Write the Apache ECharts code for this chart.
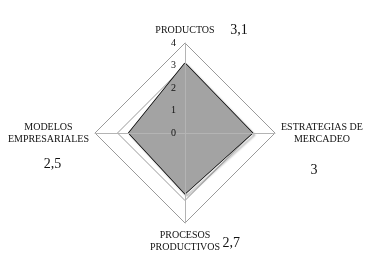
<!DOCTYPE html>
<html>
<head>
<meta charset="utf-8">
<script src="https://cdn.jsdelivr.net/npm/echarts@6/dist/echarts.min.js"></script>
<style>
html,body{margin:0;padding:0;background:#fff;}
#c{width:379px;height:275px;}
</style>
</head>
<body>
<div id="c"></div>
<script>
// Data (ECharts radar runs counter-clockwise from the top)
var categories = ['PRODUCTOS', 'MODELOS\nEMPRESARIALES', 'PROCESOS\nPRODUCTIVOS', 'ESTRATEGIAS DE\nMERCADEO'];
var values = [3.1, 2.5, 2.7, 3];
var valueLabels = ['3,1', '2,5', '2,7', '3'];
var axisMax = 4;
var tickCount = 4;

var FONT = 'Liberation Serif';
var TXT = '#111';
var chart = echarts.init(document.getElementById('c'), null, {renderer: 'canvas'});

function nameFormatter(name) {
  var i = categories.indexOf(name);
  var v = valueLabels[i];
  var lines = name.split('\n');
  if (i === 0) {
    return '{pad|}{n|' + lines[0] + '}{v|' + v + '}';
  } else if (i === 1) {
    return '{spL|}\n{n|' + lines[0] + '}\n{n|' + lines[1] + '}\n{vL|' + v + '}';
  } else if (i === 2) {
    return '{n|' + lines[0] + '}\n{pad2|}{n|' + lines[1] + '}{v2|' + v + '}';
  } else {
    return '{spR|}\n{n|' + lines[0] + '}\n{n|' + lines[1] + '}\n{vR|' + v + '}';
  }
}

var indicatorsMain = categories.map(function (c) { return {name: c, max: axisMax, min: 0}; });
var indicatorsTop = categories.map(function (c, i) {
  var o = {name: c, max: axisMax, min: 0};
  if (i !== 0) o.axisLabel = {show: false};
  return o;
});

var common = {
  center: [185, 133],
  radius: 90,
  startAngle: 90,
  shape: 'polygon',
  splitNumber: tickCount
};

chart.setOption({
  animation: false,
  backgroundColor: '#ffffff',
  radar: [
    Object.assign({}, common, {
      indicator: indicatorsMain,
      z: 0,
      axisName: {
        show: true,
        color: TXT,
        fontFamily: FONT,
        fontSize: 10,
        formatter: nameFormatter,
        rich: {
          n: {fontFamily: FONT, fontSize: 10, color: TXT, align: 'center', lineHeight: 12},
          pad: {width: 33},
          v: {fontFamily: FONT, fontSize: 14, color: TXT, width: 33, align: 'right'},
          pad2: {width: 20},
          v2: {fontFamily: FONT, fontSize: 14, color: TXT, width: 20, align: 'right', lineHeight: 12, padding: [0, 0, 8, 0]},
          spL: {height: 39, lineHeight: 39},
          vL: {fontFamily: FONT, fontSize: 14, color: TXT, align: 'center', lineHeight: 39, padding: [0, 0, 0, 8]},
          spR: {height: 50, lineHeight: 50},
          vR: {fontFamily: FONT, fontSize: 14, color: TXT, align: 'center', lineHeight: 50, padding: [0, 16, 0, 0]}
        }
      },
      nameGap: 6,
      axisLine: {show: false},
      axisTick: {show: false},
      axisLabel: {show: false},
      splitLine: {show: true, lineStyle: {color: '#9a9a9a', width: 1}},
      splitArea: {show: false}
    }),
    Object.assign({}, common, {
      indicator: indicatorsTop,
      z: 5,
      axisName: {show: false},
      axisLine: {show: true, lineStyle: {color: '#b4b4b4', width: 1}},
      axisTick: {show: false},
      axisLabel: {show: true, color: TXT, fontFamily: FONT, fontSize: 10, margin: 9},
      splitLine: {show: false},
      splitArea: {show: false}
    })
  ],
  series: [{
    type: 'radar',
    radarIndex: 0,
    z: 2,
    symbol: 'none',
    lineStyle: {color: '#000', width: 1.5, shadowColor: 'rgba(0,0,0,0.35)', shadowBlur: 2, shadowOffsetX: 2, shadowOffsetY: 2},
    areaStyle: {color: '#a3a3a3', opacity: 1},
    data: [{value: values}]
  }]
});
</script>
</body>
</html>
